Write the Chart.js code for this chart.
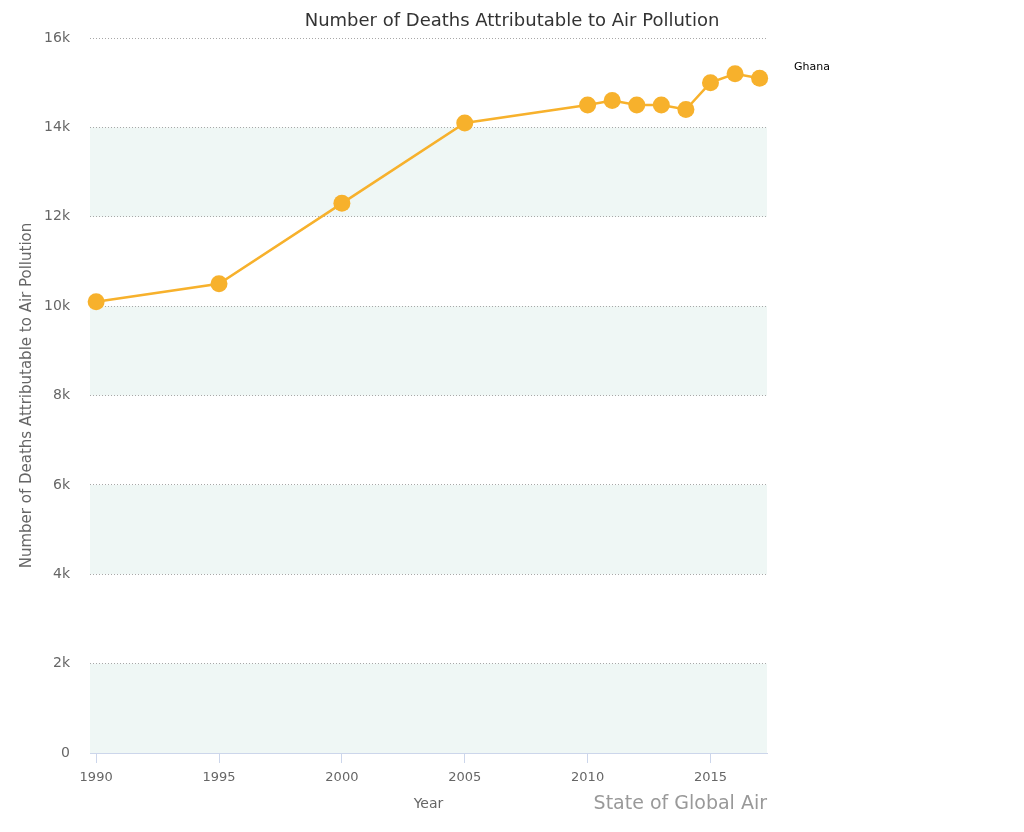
<!DOCTYPE html>
<html>
<head>
<meta charset="utf-8">
<script src="https://cdn.jsdelivr.net/npm/chart.js@4"></script>
<style>
  html, body { margin: 0; padding: 0; background: #fff; }
  #wrap { width: 1024px; height: 832px; position: relative; }
</style>
</head>
<body>
<div id="wrap"><canvas id="chart"></canvas></div>
<script>
const years  = [1990, 1995, 2000, 2005, 2010, 2011, 2012, 2013, 2014, 2015, 2016, 2017]
const deaths = [10100, 10500, 12300, 14100, 14500, 14600, 14500, 14500, 14400, 15000, 15200, 15100]
const xTicks = [1990, 1995, 2000, 2005, 2010, 2015]
const seriesName = 'Ghana'
const chartTitle = 'Number of Deaths Attributable to Air Pollution'
const credit = 'State of Global Air'

const FONT = "'DejaVu Sans', Verdana, sans-serif"
const LINE = '#f7b12c'

// alternating horizontal bands, like highcharts alternateGridColor
const bands = {
  id: 'bands',
  beforeDraw(chart) {
    const { ctx, chartArea: a, scales: { y } } = chart
    ctx.save()
    ctx.fillStyle = '#eff7f5'
    for (let v = 0; v < 16000; v += 4000) {
      const top = y.getPixelForValue(v + 2000)
      const bot = y.getPixelForValue(v)
      ctx.fillRect(a.left, top, a.right - a.left, bot - top)
    }
    ctx.restore()
  }
}

const labels = {
  id: 'labels',
  afterDraw(chart) {
    const { ctx, chartArea: a } = chart
    ctx.save()
    ctx.textBaseline = 'middle'
    ctx.fillStyle = '#333'
    ctx.font = `18px ${FONT}`
    ctx.textAlign = 'center'
    ctx.fillText(chartTitle, 512, 21)

    ctx.fillStyle = '#000'
    ctx.font = `11px ${FONT}`
    ctx.textAlign = 'left'
    ctx.fillText(seriesName, a.right + 27, 67)

    ctx.fillStyle = '#999'
    ctx.font = `19px ${FONT}`
    ctx.textAlign = 'right'
    ctx.fillText(credit, a.right, 804)
    ctx.restore()
  }
}

new Chart(document.getElementById('chart'), {
  type: 'line',
  data: {
    datasets: [{
      label: seriesName,
      data: years.map((yr, i) => ({ x: yr, y: deaths[i] })),
      borderColor: LINE,
      backgroundColor: LINE,
      borderWidth: 2.5,
      pointRadius: 8.5,
      pointHoverRadius: 8.5,
      pointBorderWidth: 0,
      tension: 0,
      clip: false,
    }]
  },
  options: {
    responsive: true,
    maintainAspectRatio: false,
    animation: false,
    layout: { padding: { top: 38, left: 0, right: 257, bottom: 0 } },
    plugins: {
      legend: { display: false },
      tooltip: { enabled: false },
      title: { display: false },
    },
    scales: {
      x: {
        type: 'linear',
        min: 1989.75,
        max: 2017.3,
        afterBuildTicks: s => { s.ticks = xTicks.map(v => ({ value: v })) },
        afterFit: s => { s.height = 79 },
        ticks: {
          callback: v => String(v),
          color: '#666',
          font: { family: FONT, size: 13 },
          padding: 7,
          maxRotation: 0,
        },
        grid: { drawOnChartArea: false, drawTicks: true, tickLength: 10, color: '#ccd6eb' },
        border: { display: true, color: '#ccd6eb', width: 1 },
        title: {
          display: true,
          text: 'Year',
          color: '#666',
          font: { family: FONT, size: 14 },
          padding: { top: 0, bottom: 19 },
        },
      },
      y: {
        min: 0,
        max: 16000,
        afterFit: s => { s.width = 90 },
        ticks: {
          stepSize: 2000,
          callback: v => v === 0 ? '0' : (v / 1000) + 'k',
          color: '#666',
          font: { family: FONT, size: 14 },
          padding: 20,
        },
        grid: { drawTicks: false, color: ctx => ctx.tick.value === 0 ? 'rgba(0,0,0,0)' : '#a8a8a8', lineWidth: 1 },
        border: { display: false, dash: [1, 2] },
        title: {
          display: true,
          text: chartTitle,
          color: '#666',
          font: { family: FONT, size: 15 },
          padding: { top: 18, bottom: 0 },
        },
      },
    },
  },
  plugins: [bands, labels],
})
</script>
</body>
</html>
